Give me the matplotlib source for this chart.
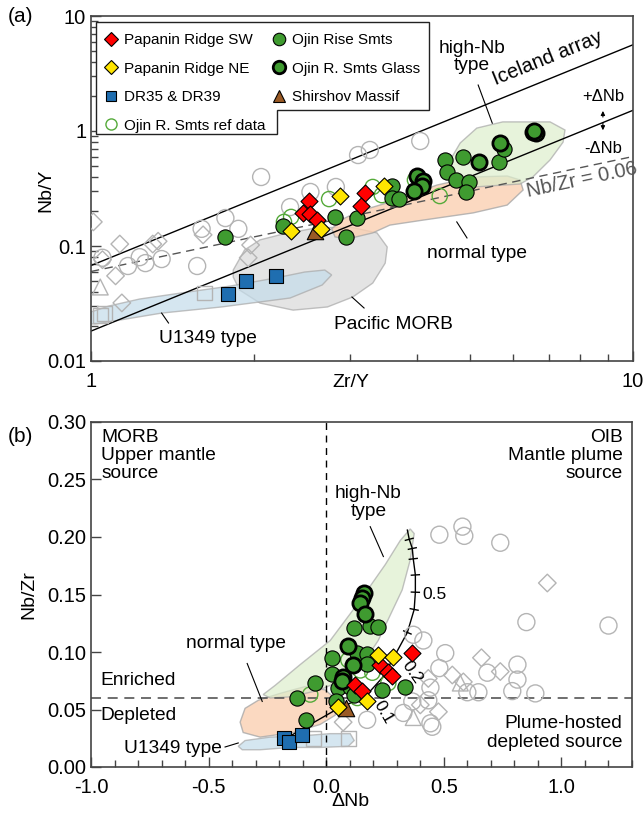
import numpy as np
import matplotlib.pyplot as plt
from matplotlib.lines import Line2D
from matplotlib.patches import Polygon
from matplotlib.ticker import LogLocator, NullFormatter, FuncFormatter, MultipleLocator

plt.rcParams['font.family'] = ['Liberation Sans', 'DejaVu Sans']
plt.rcParams['font.size'] = 13.8

# ---------------- panel (a) data: Zr/Y vs Nb/Y ----------------
sw_a_x = [2.53, 2.46, 2.54, 2.61, 3.20, 3.15]
sw_a_y = [0.246, 0.194, 0.190, 0.168, 0.289, 0.223]
ne_a_x = [2.34, 2.88, 3.47, 2.66]
ne_a_y = [0.135, 0.272, 0.333, 0.141]
dr_a_x = [1.79, 1.93, 2.19]
dr_a_y = [0.0383, 0.0497, 0.0548]
shir_a_x = [2.59]
shir_a_y = [0.135]
rise_a_x = [1.77, 2.26, 2.82, 3.10, 2.95, 3.59, 3.59, 3.70, 4.50, 4.54, 4.71, 4.86, 4.98, 4.92, 5.66, 5.78]
rise_a_y = [0.120, 0.149, 0.179, 0.175, 0.120, 0.333, 0.261, 0.256, 0.560, 0.440, 0.375, 0.594, 0.360, 0.295, 0.537, 0.697]
glass_a_x = [3.99, 4.10, 4.08, 3.94, 5.20, 5.69, 6.54, 6.62, 6.58]
glass_a_y = [0.406, 0.367, 0.333, 0.301, 0.537, 0.787, 0.98, 0.96, 1.00]
ref_a_x = [2.27, 2.34, 2.75, 3.31, 3.44, 4.40, 3.96]
ref_a_y = [0.162, 0.179, 0.256, 0.326, 0.277, 0.272, 0.375]
# other literature data (grey open symbols)
gc_a_x = [2.06, 2.33, 1.77, 1.87, 1.60, 2.54, 2.83, 3.11, 3.27, 4.05, 1.23, 1.17, 1.26, 1.35, 1.57, 1.05]
gc_a_y = [0.398, 0.218, 0.175, 0.141, 0.141, 0.295, 0.326, 0.618, 0.684, 0.818, 0.080, 0.067, 0.071, 0.077, 0.067, 0.079]
gd_a_x = [1.01, 1.13, 1.30, 1.61, 1.97, 1.95, 1.11, 1.14, 1.05, 1.33]
gd_a_y = [0.162, 0.104, 0.104, 0.125, 0.102, 0.079, 0.055, 0.032, 0.076, 0.110]
gt_a_x = [1.04]
gt_a_y = [0.044]
gs_a_x = [1.62, 1.04, 1.06]
gs_a_y = [0.039, 0.025, 0.026]

# fields (Zr/Y, Nb/Y)
highnb_a = [(4.60, 0.560), (4.80, 0.787), (5.15, 1.06), (5.75, 1.20), (7.03, 1.20), (7.49, 1.02),
            (7.43, 0.80), (7.03, 0.56), (6.54, 0.40), (6.19, 0.346), (5.45, 0.333), (4.80, 0.319), (4.60, 0.390)]
normal_a = [(2.78, 0.141), (2.94, 0.175), (3.13, 0.201), (3.56, 0.241), (4.35, 0.339), (5.07, 0.398),
            (5.86, 0.406), (6.19, 0.375), (6.27, 0.307), (5.86, 0.227), (5.07, 0.194), (4.10, 0.168),
            (3.56, 0.152), (3.31, 0.130), (2.97, 0.115), (2.82, 0.120)]
morb_a = [(1.83, 0.0618), (1.92, 0.0923), (2.05, 0.113), (2.26, 0.127), (2.61, 0.144), (3.01, 0.146),
          (3.37, 0.130), (3.52, 0.098), (3.49, 0.071), (3.31, 0.0476), (3.04, 0.0360), (2.73, 0.0295),
          (2.36, 0.0277), (2.05, 0.0319), (1.88, 0.0414), (1.83, 0.0537)]
u1349_a = [(1.0, 0.0267), (1.08, 0.0301), (1.23, 0.0346), (1.51, 0.0398), (1.81, 0.0449), (2.19, 0.0527),
           (2.48, 0.0594), (2.70, 0.0618), (2.78, 0.056), (2.67, 0.0458), (2.33, 0.0353), (1.74, 0.0295),
           (1.35, 0.0261), (1.13, 0.0227), (1.02, 0.0210), (1.0, 0.0210)]

# Iceland array bounds: log(Nb/Y) = 1.92 log(Zr/Y) + c
iceland_slope = 1.92
iceland_upper = -1.17
iceland_lower = -1.74
nb_zr_ref = 0.06

# ---------------- panel (b) data: dNb vs Nb/Zr ----------------
sw_b_x = [0.366, 0.230, 0.264, 0.281, 0.123, 0.153]
sw_b_y = [0.099, 0.089, 0.083, 0.079, 0.071, 0.066]
ne_b_x = [0.221, 0.285, 0.174, 0.051]
ne_b_y = [0.097, 0.096, 0.057, 0.052]
dr_b_x = [-0.179, -0.157, -0.102]
dr_b_y = [0.025, 0.022, 0.028]
shir_b_x = [0.085]
shir_b_y = [0.051]
glass_b_x = [0.162, 0.153, 0.145, 0.166, 0.094, 0.115, 0.072, 0.068]
glass_b_y = [0.151, 0.147, 0.143, 0.133, 0.105, 0.089, 0.078, 0.075]
rise_b_x = [0.119, 0.187, 0.221, 0.026, 0.132, 0.174, 0.174, 0.026, 0.051, 0.102, 0.119, 0.043,
            0.238, 0.336, -0.047, -0.123, -0.085]
rise_b_y = [0.121, 0.123, 0.122, 0.095, 0.099, 0.098, 0.090, 0.081, 0.069, 0.070, 0.063, 0.057,
            0.067, 0.070, 0.073, 0.060, 0.041]
ref_b_x = [0.094, 0.145, 0.196, 0.264, 0.132, -0.068]
ref_b_y = [0.093, 0.084, 0.082, 0.073, 0.060, 0.063]
gc_b_x = [0.481, 0.579, 0.587, 0.740, 0.851, 1.200, 0.370, 0.413, 0.506, 0.481, 0.685, 0.813, 0.813,
          0.791, 0.889, 0.647, 0.600, 0.443, 0.451, 0.434, 0.174, 0.443, 0.366, 0.328]
gc_b_y = [0.202, 0.209, 0.201, 0.195, 0.126, 0.123, 0.115, 0.110, 0.099, 0.086, 0.082, 0.089, 0.076,
          0.066, 0.064, 0.065, 0.065, 0.038, 0.035, 0.058, 0.041, 0.069, 0.057, 0.047]
gd_b_x = [0.940, 0.660, 0.740, 0.536, 0.434, 0.477, 0.400, 0.583, 0.072]
gd_b_y = [0.160, 0.095, 0.083, 0.080, 0.077, 0.048, 0.054, 0.074, 0.039]
gt_b_x = [0.570, 0.370]
gt_b_y = [0.073, 0.043]
gs_b_x = [-0.055, 0.094]
gs_b_y = [0.025, 0.025]

highnb_b = [(0.357, 0.207), (0.374, 0.203), (0.357, 0.180), (0.323, 0.154), (0.272, 0.132), (0.221, 0.110),
            (0.166, 0.093), (0.081, 0.077), (-0.026, 0.067), (-0.153, 0.061), (-0.238, 0.060), (-0.268, 0.063),
            (-0.217, 0.071), (-0.111, 0.089), (0.017, 0.110), (0.145, 0.145), (0.251, 0.176), (0.315, 0.197)]
normal_b = [(-0.366, 0.039), (-0.345, 0.051), (-0.289, 0.058), (-0.196, 0.064), (-0.089, 0.070), (-0.004, 0.067),
            (0.047, 0.058), (0.038, 0.045), (-0.026, 0.037), (-0.140, 0.030), (-0.281, 0.026), (-0.353, 0.030)]
u1349_b = [(-0.374, 0.018), (-0.345, 0.023), (-0.238, 0.026), (-0.111, 0.027), (0.017, 0.029), (0.102, 0.029),
           (0.119, 0.023), (0.094, 0.018), (-0.026, 0.017), (-0.153, 0.017), (-0.281, 0.015), (-0.357, 0.015)]

# mixing curve and its tick marks
mix_x = [-0.170, 0.060, 0.120, 0.174, 0.240, 0.289, 0.345, 0.374, 0.379, 0.379, 0.370, 0.366, 0.353, 0.345]
mix_y = [0.025, 0.052, 0.057, 0.063, 0.078, 0.096, 0.117, 0.137, 0.152, 0.167, 0.181, 0.190, 0.198, 0.206]
mix_tick_x = [0.174, 0.289, 0.345, 0.374, 0.379, 0.379, 0.370, 0.366, 0.353]
mix_tick_y = [0.063, 0.096, 0.117, 0.137, 0.152, 0.167, 0.181, 0.190, 0.198]

# ---------------- styles ----------------
red = '#ff0000'
yellow = '#ffe500'
blue = '#1f6eb0'
green = '#3f9b30'
brown = '#9a5a25'
grey = '#b4b4b4'
spine_c = '#444444'


def style_sets(ax, sw, ne, dr, sh, ri, gl, rf, gc, gd, gt, gs):
    ax.scatter(*gc, s=150, facecolors='none', edgecolors=grey, linewidths=1.0, zorder=3)
    ax.scatter(*gd, marker='D', s=80, facecolors='none', edgecolors=grey, linewidths=1.0, zorder=3)
    ax.scatter(*gt, marker='^', s=130, facecolors='none', edgecolors=grey, linewidths=1.0, zorder=3)
    ax.scatter(*gs, marker='s', s=110, facecolors='none', edgecolors=grey, linewidths=1.0, zorder=3)
    ax.scatter(*rf, s=120, facecolors='none', edgecolors='#55aa3a', linewidths=1.0, zorder=4)
    ax.scatter(*ri, s=120, c=green, edgecolors='black', linewidths=0.8, zorder=5)
    ax.scatter(*gl, s=120, c=green, edgecolors='black', linewidths=2.0, zorder=6)
    ax.scatter(*dr, marker='s', s=90, c=blue, edgecolors='black', linewidths=0.8, zorder=6)
    ax.scatter(*sh, marker='^', s=140, c=brown, edgecolors='black', linewidths=0.8, zorder=7)
    ax.scatter(*sw, marker='D', s=75, c=red, edgecolors='black', linewidths=0.8, zorder=7)
    ax.scatter(*ne, marker='D', s=75, c=yellow, edgecolors='black', linewidths=0.8, zorder=8)


def add_field(ax, pts, color, alpha=0.8):
    ax.add_patch(Polygon(pts, closed=True, facecolor=color, edgecolor='#a8a8a8', lw=1.0,
                         alpha=alpha, zorder=1))


fig = plt.figure(figsize=(6.44, 8.23), dpi=100)
ax1 = fig.add_axes([91 / 644, 1 - 361 / 823, 542 / 644, 345 / 823])
ax2 = fig.add_axes([91 / 644, 1 - 767 / 823, 541 / 644, 345 / 823])

# ---------------- panel (a) ----------------
add_field(ax1, morb_a, '#d9d9d9', 0.7)
add_field(ax1, u1349_a, '#c4dcea', 0.7)
add_field(ax1, normal_a, '#fbd0b2', 0.8)
add_field(ax1, highnb_a, '#ddeecc', 0.7)

zr = np.array([1.0, 10.0])
ax1.plot(zr, 10 ** (iceland_slope * np.log10(zr) + iceland_upper), color='black', lw=1.0, zorder=2)
ax1.plot(zr, 10 ** (iceland_slope * np.log10(zr) + iceland_lower), color='black', lw=1.0, zorder=2)
ax1.plot(zr, nb_zr_ref * zr, color='#555555', lw=1.0, ls=(0, (6, 4)), zorder=2)

style_sets(ax1, (sw_a_x, sw_a_y), (ne_a_x, ne_a_y), (dr_a_x, dr_a_y), (shir_a_x, shir_a_y),
           (rise_a_x, rise_a_y), (glass_a_x, glass_a_y), (ref_a_x, ref_a_y),
           (gc_a_x, gc_a_y), (gd_a_x, gd_a_y), (gt_a_x, gt_a_y), (gs_a_x, gs_a_y))

ax1.set_xscale('log')
ax1.set_yscale('log')
ax1.set_xlim(1, 10)
ax1.set_ylim(0.01, 10)
fmt = FuncFormatter(lambda v, p: '%g' % v)
ax1.xaxis.set_major_formatter(fmt)
ax1.yaxis.set_major_formatter(fmt)
ax1.xaxis.set_minor_locator(LogLocator(base=10, subs=np.arange(2, 10)))
ax1.yaxis.set_minor_locator(LogLocator(base=10, subs=np.arange(2, 10)))
ax1.xaxis.set_minor_formatter(NullFormatter())
ax1.yaxis.set_minor_formatter(NullFormatter())
ax1.set_xlabel('Zr/Y', fontsize=14)
ax1.set_ylabel('Nb/Y', fontsize=14)
ax1.xaxis.set_label_coords(0.48, -0.037)
ax1.yaxis.set_label_coords(-0.068, 0.496)

# annotations (a)
ax1.text(6.97, 4.31, 'Iceland array', rotation=22, ha='center', va='center', rotation_mode='anchor',
         fontsize=14.5)
ax1.text(5.05, 4.40, 'high-Nb\ntype', ha='center', va='center', linespacing=1.0)
ax1.plot([5.18, 5.50], [2.51, 1.17], color='black', lw=0.8)
ax1.text(8.80, 1.98, '+ΔNb', ha='center', va='center', fontsize=12)
ax1.text(8.80, 0.711, '-ΔNb', ha='center', va='center', fontsize=12)
ax1.annotate('', xy=(8.80, 1.58), xytext=(8.80, 1.25),
             arrowprops=dict(arrowstyle='-|>', lw=0.8, color='black', mutation_scale=6))
ax1.annotate('', xy=(8.80, 0.96), xytext=(8.80, 1.25),
             arrowprops=dict(arrowstyle='-|>', lw=0.8, color='black', mutation_scale=6))
ax1.text(8.05, 0.375, 'Nb/Zr = 0.06', rotation=12, ha='center', va='center', color='#555555',
         rotation_mode='anchor', fontsize=14.5)
ax1.text(5.15, 0.0869, 'normal type', ha='center', va='center')
ax1.plot([4.73, 4.94], [0.162, 0.1175], color='black', lw=0.8)
ax1.text(3.61, 0.0206, 'Pacific MORB', ha='center', va='center')
ax1.plot([3.03, 3.19], [0.0360, 0.0289], color='black', lw=0.8)
ax1.text(1.64, 0.0158, 'U1349 type', ha='center', va='center')
ax1.plot([1.35, 1.39], [0.0261, 0.0214], color='black', lw=0.8)

# legend with notched frame
frame = [(0.0092, 0.983), (0.624, 0.983), (0.624, 0.7275), (0.343, 0.7275), (0.343, 0.658), (0.0092, 0.658)]
ax1.add_patch(Polygon(frame, closed=True, transform=ax1.transAxes, facecolor='white',
                      edgecolor='#222222', lw=1.0, zorder=9))
handles = [
    Line2D([], [], ls='none', marker='D', ms=7, mfc=red, mec='black', mew=0.8, label='Papanin Ridge SW'),
    Line2D([], [], ls='none', marker='D', ms=7, mfc=yellow, mec='black', mew=0.8, label='Papanin Ridge NE'),
    Line2D([], [], ls='none', marker='s', ms=7, mfc=blue, mec='black', mew=0.8, label='DR35 & DR39'),
    Line2D([], [], ls='none', marker='o', ms=8, mfc='none', mec='#55aa3a', mew=1.0, label='Ojin R. Smts ref data'),
    Line2D([], [], ls='none', marker='o', ms=9, mfc=green, mec='black', mew=0.8, label='Ojin Rise Smts'),
    Line2D([], [], ls='none', marker='o', ms=9, mfc=green, mec='black', mew=2.0, label='Ojin R. Smts Glass'),
    Line2D([], [], ls='none', marker='^', ms=9, mfc=brown, mec='black', mew=0.8, label='Shirshov Massif'),
]
leg = ax1.legend(handles=handles, ncol=2, loc='upper left', bbox_to_anchor=(0.0, 0.99),
                 frameon=False, fontsize=11, handlelength=0.8, handletextpad=0.45,
                 columnspacing=0.5, labelspacing=0.95, borderpad=0.4)
leg.set_zorder(10)

ax1.text(-0.13, 1.0, '(a)', transform=ax1.transAxes, ha='center', va='center', fontsize=15)

# ---------------- panel (b) ----------------
add_field(ax2, u1349_b, '#c4dcea', 0.7)
add_field(ax2, normal_b, '#fbd0b2', 0.8)
add_field(ax2, highnb_b, '#ddeecc', 0.7)

ax2.axhline(nb_zr_ref, color='#555555', lw=1.2, ls=(0, (6, 4)), zorder=2)
ax2.axvline(0.0, color='black', lw=1.0, ls=(0, (5, 4)), zorder=2)
ax2.plot(mix_x, mix_y, color='black', lw=1.0, zorder=2)

style_sets(ax2, (sw_b_x, sw_b_y), (ne_b_x, ne_b_y), (dr_b_x, dr_b_y), (shir_b_x, shir_b_y),
           (rise_b_x, rise_b_y), (glass_b_x, glass_b_y), (ref_b_x, ref_b_y),
           (gc_b_x, gc_b_y), (gd_b_x, gd_b_y), (gt_b_x, gt_b_y), (gs_b_x, gs_b_y))

ax2.set_xlim(-1.0, 1.3)
ax2.set_ylim(0.0, 0.30)
ax2.xaxis.set_major_locator(MultipleLocator(0.5))
ax2.xaxis.set_minor_locator(MultipleLocator(0.1))
ax2.yaxis.set_major_locator(MultipleLocator(0.05))
ax2.xaxis.set_major_formatter(FuncFormatter(lambda v, p: '%.1f' % v))
ax2.yaxis.set_major_formatter(FuncFormatter(lambda v, p: '%.2f' % v))
ax2.set_xlabel('ΔNb', fontsize=14)
ax2.set_ylabel('Nb/Zr', fontsize=14)
ax2.xaxis.set_label_coords(0.479, -0.075)
ax2.yaxis.set_label_coords(-0.100, 0.499)

# tick marks across the mixing curve, drawn perpendicular in screen space
fig.canvas.draw()
pts = ax2.transData.transform(np.column_stack([mix_x, mix_y]))
inv = ax2.transData.inverted()
for tx, ty in zip(mix_tick_x, mix_tick_y):
    p = ax2.transData.transform((tx, ty))
    d = np.hypot(*(pts - p).T)
    i = int(np.argmin(d))
    a = pts[max(i - 1, 0)]
    b = pts[min(i + 1, len(pts) - 1)]
    t = (b - a) / np.hypot(*(b - a))
    n = np.array([-t[1], t[0]]) * 4
    q = inv.transform([p - n, p + n])
    ax2.plot(q[:, 0], q[:, 1], color='black', lw=1.0, zorder=2)
ax2.text(0.46, 0.150, '0.5', ha='center', va='center', fontsize=12.5)
ax2.text(0.366, 0.0826, '0.2', ha='center', va='center', fontsize=12.5, rotation=-55)
ax2.text(0.243, 0.048, '0.1', ha='center', va='center', fontsize=12.5, rotation=-60)

# annotations (b)
ax2.text(-0.957, 0.294, 'MORB\nUpper mantle\nsource', ha='left', va='top', linespacing=1.1)
ax2.text(1.26, 0.294, 'OIB\nMantle plume\nsource', ha='right', va='top', linespacing=1.1)
ax2.text(0.179, 0.230, 'high-Nb\ntype', ha='center', va='center', linespacing=1.0)
ax2.plot([0.187, 0.243], [0.209, 0.183], color='black', lw=0.8)
ax2.text(-0.383, 0.107, 'normal type', ha='center', va='center')
ax2.plot([-0.336, -0.272], [0.090, 0.057], color='black', lw=0.8)
ax2.text(-0.962, 0.0748, 'Enriched', ha='left', va='center')
ax2.text(-0.962, 0.045, 'Depleted', ha='left', va='center')
ax2.text(-0.651, 0.0165, 'U1349 type', ha='center', va='center')
ax2.plot([-0.430, -0.374], [0.0174, 0.0209], color='black', lw=0.8)
ax2.text(1.26, 0.0296, 'Plume-hosted\ndepleted source', ha='right', va='center', linespacing=1.1)

ax2.text(-0.13, 0.957, '(b)', transform=ax2.transAxes, ha='center', va='center', fontsize=15)

for ax in (ax1, ax2):
    for s in ax.spines.values():
        s.set_color(spine_c)
        s.set_linewidth(1.2)
    ax.tick_params(which='both', direction='in', top=False, right=False, colors=spine_c,
                   labelcolor='black', labelsize=14.5)
    ax.tick_params(axis='x', which='both', pad=8)
    ax.tick_params(which='major', length=7, width=1.0)
    ax.tick_params(which='minor', length=5, width=1.0)

fig.savefig('out.png', dpi=100)
